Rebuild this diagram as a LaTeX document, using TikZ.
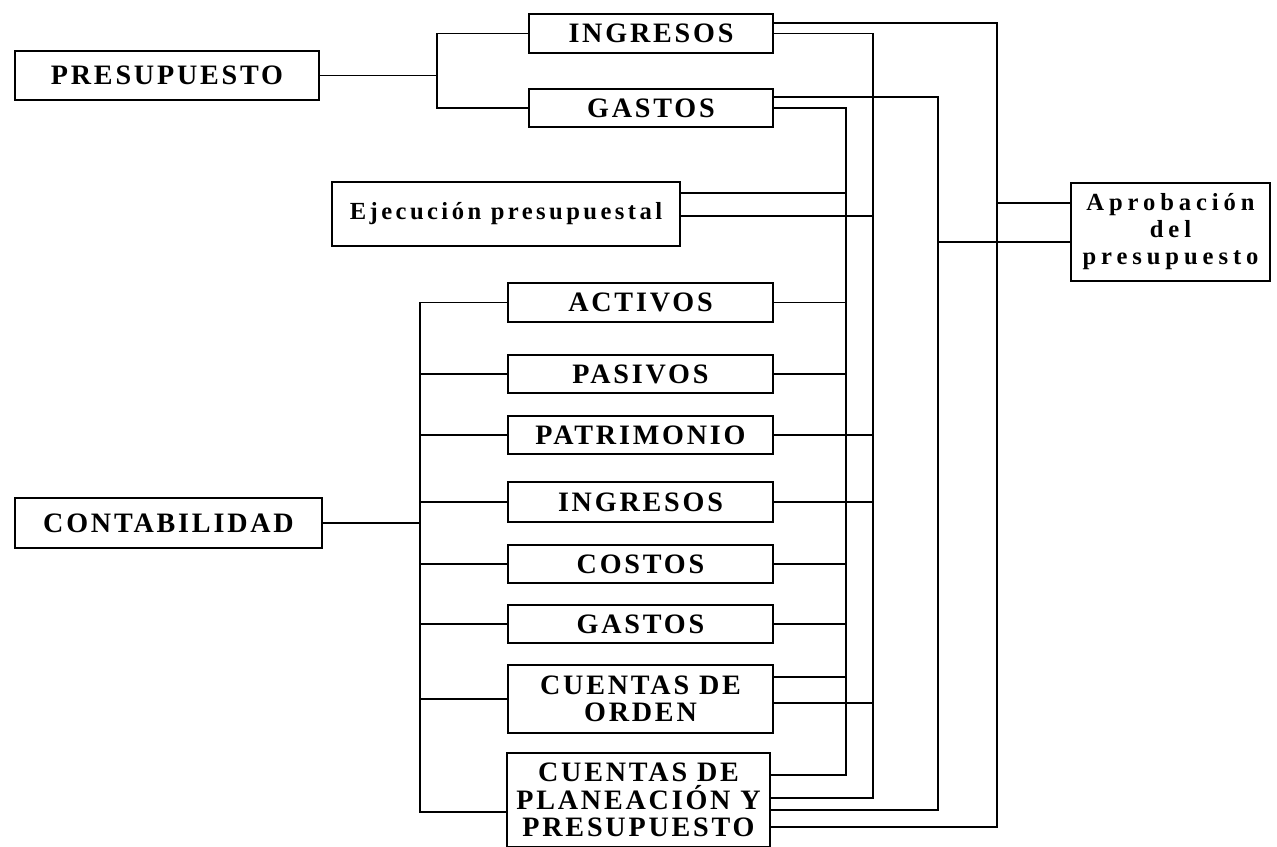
\documentclass[tikz,border=0pt]{standalone}
\usepackage{fontspec}
\setmainfont{Liberation Serif}
\usetikzlibrary{positioning}

\begin{document}
\begin{tikzpicture}[x=0.02cm,y=-0.02cm,line width=1.1pt,
                    box/.style={draw,line width=1.3pt,inner sep=0pt,align=center,
                      font=\bfseries\fontsize{16}{15.6}\selectfont\addfontfeatures{LetterSpace=10}},
                    lower/.style={font=\bfseries\fontsize{14}{15.4}\selectfont\addfontfeatures{LetterSpace=#1}},
                    sz/.style 2 args={minimum width=#1*0.02cm,minimum height=#2*0.02cm}]
  \useasboundingbox (0,0) rectangle (1277,846);

  \node[box,sz={304}{49}] (pres)  at (167,75.5)   {PRESUPUESTO};
  \node[box,sz={244}{39}] (ingP)  at (651,33.5)   {INGRESOS};
  \node[box,sz={244}{38}] (gasP)  at (651,108)    {GASTOS};
  \node[box,lower=14,sz={348}{64}] (ejec)  at (506,214) {Ejecución presupuestal};
  \node[box,lower=20,sz={199}{98}] (aprob) at (1170.5,232) {Aprobación\\del\\presupuesto};

  \node[box,sz={307}{50}] (conta) at (168.5,523)  {CONTABILIDAD};
  \node[box,sz={265}{39}] (activ) at (640.5,302.5) {ACTIVOS};
  \node[box,sz={265}{38}] (pasiv) at (640.5,374)  {PASIVOS};
  \node[box,sz={265}{38}] (patri) at (640.5,435)  {PATRIMONIO};
  \node[box,sz={265}{40}] (ingC)  at (640.5,502)  {INGRESOS};
  \node[box,sz={265}{38}] (costo) at (640.5,564)  {COSTOS};
  \node[box,sz={265}{38}] (gasC)  at (640.5,624)  {GASTOS};
  \node[box,sz={265}{68}] (orden) at (640.5,699)  {CUENTAS DE\\ORDEN};
  \node[box,sz={263}{94}] (plane) at (638.5,800)  {CUENTAS DE\\PLANEACIÓN Y\\PRESUPUESTO};

  % brackets
  \coordinate (bP) at (437,75.5);
  \coordinate (bC) at (420,523);
  \draw (pres) -- (bP);
  \draw (ingP.west) -| (bP) |- (gasP.west);
  \draw (conta) -- (bC);
  \draw (activ.west) -| (bC) |- ([shift={(0,12)}]plane.west);
  \foreach \n in {pasiv,patri,ingC,costo,gasC,orden}
    \draw (\n.west) -- (\n.west -| bC);

  % buses down to planeacion
  \coordinate (cA) at (846,775);
  \coordinate (cB) at (873,798);
  \coordinate (cC) at (938,810);
  \coordinate (cD) at (997,827);
  \draw ([shift={(0,-10.5)}]ingP.east) -| (cD) -- (cD -| plane.east);
  \draw (ingP.east) -| (cB) -- (cB -| plane.east);
  \draw ([shift={(0,-11)}]gasP.east) -| (cC) -- (cC -| plane.east);
  \draw (gasP.east) -| (cA) -- (cA -| plane.east);

  % branches
  \draw ([shift={(0,-21)}]ejec.east) coordinate (e1) -- (e1 -| cA);
  \draw ([shift={(0,2)}]ejec.east) coordinate (e2) -- (e2 -| cB);
  \draw ([shift={(0,-29)}]aprob.west) coordinate (a1) -- (a1 -| cD);
  \draw ([shift={(0,10)}]aprob.west) coordinate (a2) -- (a2 -| cC);
  \draw (activ.east) -- (activ.east -| cA);
  \draw (pasiv.east) -- (pasiv.east -| cA);
  \draw (patri.east) -- (patri.east -| cB);
  \draw (ingC.east) -- (ingC.east -| cB);
  \draw (costo.east) -- (costo.east -| cA);
  \draw (gasC.east) -- (gasC.east -| cA);
  \draw ([shift={(0,-22)}]orden.east) coordinate (o1) -- (o1 -| cA);
  \draw ([shift={(0,4)}]orden.east) coordinate (o2) -- (o2 -| cB);
\end{tikzpicture}
\end{document}
